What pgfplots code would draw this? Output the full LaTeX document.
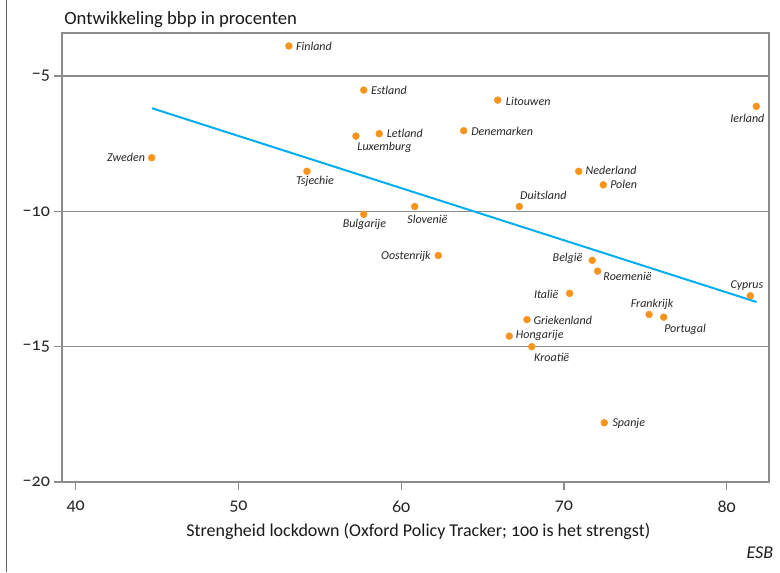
\documentclass[border=0pt]{standalone}
\usepackage{fontspec}
\setmainfont{Carlito}[Numbers=OldStyle]
\usepackage{pgfplots}
\pgfplotsset{compat=1.18}
\usepackage{pgfplotstable}
\definecolor{esbor}{HTML}{F7941D}
\definecolor{esbcy}{HTML}{00AEEF}
\definecolor{gridg}{HTML}{8C8C8C}

\pgfplotstableread{
x y
53.10 -3.89
57.70 -5.52
65.93 -5.89
81.82 -6.12
57.22 -7.22
58.65 -7.13
63.84 -7.02
44.67 -8.02
54.21 -8.52
70.91 -8.52
72.42 -9.02
67.26 -9.82
60.83 -9.82
57.70 -10.11
62.28 -11.63
71.74 -11.81
72.07 -12.21
70.35 -13.03
81.45 -13.12
75.23 -13.81
76.13 -13.91
67.73 -14.00
66.64 -14.61
68.02 -15.00
72.48 -17.81
}\data

\tikzset{lab/.style={inner sep=0pt, font=\fontsize{9}{10}\selectfont\itshape, text=black!85}}

\begin{document}
\begin{tikzpicture}
\path[use as bounding box] (0,0) rectangle (585pt,429pt);
\draw[black!60, line width=1pt] (5pt,0) -- (5pt,429pt);
\begin{axis}[
  at={(46.5pt,67.5pt)}, anchor=south west,
  scale only axis, width=530.25pt, height=336.75pt,
  xmin=39.16, xmax=82.6, ymin=-20, ymax=-3.41,
  xtick={40,50,60,70,80}, xticklabels={40,50,60,70,80},
  ytick={-20,-15,-10,-5}, yticklabels={−20,−15,−10,−5},
  tick pos=left, tick align=outside, major tick length=6pt,
  axis line style={gridg, line width=0.9pt},
  tick style={gridg, line width=0.9pt},
  ymajorgrids, grid style={gridg, line width=0.9pt},
  ticklabel style={font=\fontsize{13.5}{15}\selectfont, text=black!85},
  xticklabel style={yshift=-5pt},
  yticklabel style={xshift=0.5pt},
  clip=false,
]
\addplot[esbcy, line width=1.5pt] coordinates {(44.69,-6.19) (81.84,-13.35)};
\addplot[only marks, color=esbor, mark=*, mark size=2.6pt, mark options={fill=esbor, draw=esbor, line width=0.3pt}] table[x=x,y=y] {\data};
\node[lab, anchor=west, xshift=5.25pt] at (axis cs:53.10,-3.89) {Finland};
\node[lab, anchor=west, xshift=5.25pt] at (axis cs:57.70,-5.52) {Estland};
\node[lab, anchor=west, xshift=6pt, yshift=-1.1pt] at (axis cs:65.93,-5.89) {Litouwen};
\node[lab, anchor=center, xshift=-6.75pt, yshift=-9pt] at (axis cs:81.82,-6.12) {Ierland};
\node[lab, anchor=center, xshift=21.4pt, yshift=-8.8pt] at (axis cs:57.22,-7.22) {Luxemburg};
\node[lab, anchor=west, xshift=5.5pt] at (axis cs:58.65,-7.13) {Letland};
\node[lab, anchor=west, xshift=5.5pt, yshift=-0.75pt] at (axis cs:63.84,-7.02) {Denemarken};
\node[lab, anchor=east, xshift=-4.8pt] at (axis cs:44.67,-8.02) {Zweden};
\node[lab, anchor=center, xshift=6pt, yshift=-7.5pt] at (axis cs:54.21,-8.52) {Tsjechie};
\node[lab, anchor=west, xshift=5pt, yshift=0.4pt] at (axis cs:70.91,-8.52) {Nederland};
\node[lab, anchor=west, xshift=5pt] at (axis cs:72.42,-9.02) {Polen};
\node[lab, anchor=center, xshift=18pt, yshift=8pt] at (axis cs:67.26,-9.82) {Duitsland};
\node[lab, anchor=center, xshift=9.5pt, yshift=-9.3pt] at (axis cs:60.83,-9.82) {Slovenië};
\node[lab, anchor=center, xshift=0.5pt, yshift=-7.5pt] at (axis cs:57.70,-10.11) {Bulgarije};
\node[lab, anchor=east, xshift=-5.5pt, yshift=-1pt] at (axis cs:62.28,-11.63) {Oostenrijk};
\node[lab, anchor=east, xshift=-7.2pt, yshift=1.2pt] at (axis cs:71.74,-11.81) {België};
\node[lab, anchor=west, xshift=4.2pt, yshift=-3.75pt] at (axis cs:72.07,-12.21) {Roemenië};
\node[lab, anchor=east, xshift=-8.25pt, yshift=-0.75pt] at (axis cs:70.35,-13.03) {Italië};
\node[lab, anchor=center, xshift=-2.5pt, yshift=8pt] at (axis cs:81.45,-13.12) {Cyprus};
\node[lab, anchor=center, xshift=2.25pt, yshift=7.7pt] at (axis cs:75.23,-13.81) {Frankrijk};
\node[lab, anchor=center, xshift=16pt, yshift=-9pt] at (axis cs:76.13,-13.91) {Portugal};
\node[lab, anchor=west, xshift=4.7pt, yshift=-0.75pt] at (axis cs:67.73,-14.00) {Griekenland};
\node[lab, anchor=west, xshift=4.8pt, yshift=0.75pt] at (axis cs:66.64,-14.61) {Hongarije};
\node[lab, anchor=center, xshift=15pt, yshift=-8.25pt] at (axis cs:68.02,-15.00) {Kroatië};
\node[lab, anchor=west, xshift=6pt, yshift=-0.75pt] at (axis cs:72.48,-17.81) {Spanje};
\end{axis}
\node[anchor=base west, font=\fontsize{14}{16}\selectfont, text=black!90, inner sep=0pt] at (48pt,410.25pt) {Ontwikkeling bbp in procenten};
\node[anchor=base, font=\fontsize{13.5}{15}\selectfont, text=black!90, inner sep=0pt] at (313.7pt,27pt) {Strengheid lockdown (Oxford Policy Tracker; 100 is het strengst)};
\node[anchor=base east, font=\fontsize{13.5}{15}\selectfont\itshape, text=black!90, inner sep=0pt] at (580pt,10.3pt) {ESB};
\end{tikzpicture}
\end{document}
